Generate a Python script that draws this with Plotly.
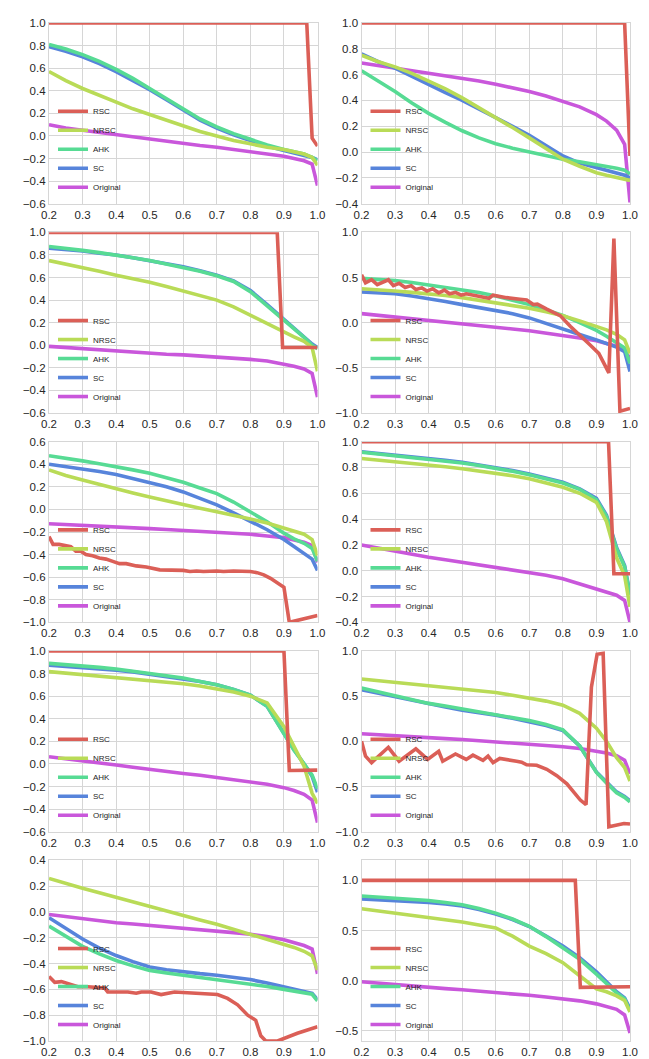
import plotly.graph_objects as go
from plotly.subplots import make_subplots

# ---------------- data ----------------
X_GRID = [0.2, 0.25, 0.3, 0.35, 0.4, 0.45, 0.5, 0.55, 0.6, 0.65, 0.7, 0.75,
          0.8, 0.85, 0.9, 0.93, 0.96, 0.984, 1.0]
SERIES = ["RSC", "NRSC", "AHK", "SC", "Original"]
COLORS = {"RSC": "#db5f57", "NRSC": "#b9db57", "AHK": "#57db94",
          "SC": "#5784db", "Original": "#c957db"}
X_TICKS = [0.2, 0.3, 0.4, 0.5, 0.6, 0.7, 0.8, 0.9, 1.0]

# Panel 1
P1_RSC_X = [0.2, 0.968, 0.984, 1.0]
P1_RSC = [1.0, 1.0, -0.02, -0.09]
P1_NRSC = [0.57, 0.49, 0.42, 0.36, 0.30, 0.24, 0.19, 0.14, 0.09, 0.04, 0.00, -0.04, -0.07, -0.10, -0.12, -0.14, -0.16, -0.19, -0.26]
P1_AHK = [0.81, 0.77, 0.72, 0.66, 0.59, 0.51, 0.42, 0.33, 0.24, 0.15, 0.08, 0.02, -0.03, -0.08, -0.12, -0.14, -0.16, -0.19, -0.22]
P1_SC = [0.79, 0.75, 0.70, 0.64, 0.57, 0.49, 0.41, 0.32, 0.23, 0.14, 0.07, 0.01, -0.04, -0.09, -0.13, -0.15, -0.17, -0.19, -0.21]
P1_ORIG = [0.10, 0.07, 0.05, 0.03, 0.01, -0.01, -0.03, -0.05, -0.07, -0.085, -0.10, -0.12, -0.14, -0.16, -0.18, -0.20, -0.22, -0.25, -0.44]

# Panel 2
P2_RSC_X = [0.2, 0.984, 1.0]
P2_RSC = [1.0, 1.0, -0.03]
P2_NRSC = [0.75, 0.70, 0.66, 0.61, 0.55, 0.49, 0.42, 0.345, 0.265, 0.19, 0.11, 0.03, -0.055, -0.11, -0.16, -0.18, -0.20, -0.21, -0.22]
P2_AHK = [0.63, 0.55, 0.47, 0.38, 0.30, 0.23, 0.165, 0.11, 0.065, 0.03, 0.00, -0.03, -0.055, -0.075, -0.095, -0.11, -0.125, -0.14, -0.17]
P2_SC = [0.76, 0.70, 0.65, 0.585, 0.52, 0.46, 0.40, 0.335, 0.27, 0.20, 0.13, 0.05, -0.03, -0.085, -0.12, -0.145, -0.165, -0.18, -0.20]
P2_ORIG = [0.69, 0.67, 0.655, 0.635, 0.615, 0.595, 0.57, 0.55, 0.525, 0.50, 0.47, 0.435, 0.395, 0.35, 0.29, 0.24, 0.17, 0.06, -0.39]

# Panel 3
P3_RSC_X = [0.2, 0.88, 0.896, 1.0]
P3_RSC = [1.0, 1.0, -0.02, -0.02]
P3_NRSC = [0.75, 0.72, 0.69, 0.655, 0.62, 0.59, 0.557, 0.52, 0.48, 0.44, 0.40, 0.34, 0.265, 0.19, 0.12, 0.075, 0.035, -0.02, -0.23]
P3_AHK = [0.875, 0.86, 0.84, 0.82, 0.80, 0.775, 0.75, 0.72, 0.69, 0.655, 0.615, 0.565, 0.475, 0.35, 0.22, 0.15, 0.07, 0.00, -0.03]
P3_SC = [0.86, 0.85, 0.835, 0.815, 0.80, 0.775, 0.75, 0.725, 0.695, 0.66, 0.62, 0.57, 0.485, 0.36, 0.23, 0.16, 0.08, 0.01, -0.02]
P3_ORIG = [-0.01, -0.02, -0.035, -0.04, -0.05, -0.06, -0.07, -0.08, -0.085, -0.095, -0.10, -0.11, -0.125, -0.14, -0.165, -0.185, -0.21, -0.25, -0.46]

# Panel 4
P4_RSC_X = [0.2, 0.212, 0.23, 0.247, 0.28, 0.295, 0.312, 0.33, 0.348, 0.362, 0.38, 0.395, 0.412, 0.43, 0.447,
            0.462, 0.48, 0.497, 0.512, 0.532, 0.562, 0.58, 0.592, 0.632, 0.672, 0.692, 0.712, 0.724, 0.752,
            0.792, 0.822, 0.852, 0.882, 0.907, 0.937, 0.952, 0.97, 1.0]
P4_RSC = [0.53, 0.44, 0.475, 0.42, 0.475, 0.41, 0.435, 0.39, 0.41, 0.367, 0.385, 0.35, 0.375, 0.33, 0.36,
          0.32, 0.335, 0.305, 0.32, 0.305, 0.284, 0.27, 0.305, 0.277, 0.26, 0.25, 0.20, 0.205, 0.15,
          0.078, -0.04, -0.14, -0.25, -0.34, -0.555, 0.93, -0.98, -0.95]
P4_NRSC = [0.375, 0.365, 0.35, 0.335, 0.32, 0.30, 0.277, 0.25, 0.222, 0.19, 0.16, 0.12, 0.078, 0.02, -0.04, -0.08, -0.13, -0.19, -0.34]
P4_AHK = [0.49, 0.48, 0.465, 0.445, 0.42, 0.395, 0.37, 0.335, 0.295, 0.25, 0.20, 0.14, 0.08, 0.0, -0.085, -0.15, -0.22, -0.28, -0.45]
P4_SC = [0.34, 0.33, 0.32, 0.295, 0.27, 0.235, 0.20, 0.17, 0.14, 0.10, 0.053, -0.005, -0.067, -0.13, -0.19, -0.23, -0.27, -0.32, -0.54]
P4_ORIG = [0.10, 0.082, 0.065, 0.048, 0.03, 0.01, -0.01, -0.03, -0.05, -0.07, -0.09, -0.115, -0.14, -0.17, -0.20, -0.23, -0.26, -0.30, -0.40]

# Panel 5
P5_RSC_X = [0.2, 0.212, 0.23, 0.25, 0.265, 0.28, 0.295, 0.31, 0.33, 0.35, 0.37, 0.39, 0.41, 0.43, 0.46, 0.49,
            0.51, 0.53, 0.6, 0.62, 0.64, 0.66, 0.7, 0.72, 0.75, 0.8, 0.82, 0.84, 0.86, 0.88, 0.9, 0.916, 0.93, 1.0]
P5_RSC = [-0.24, -0.31, -0.31, -0.32, -0.33, -0.37, -0.37, -0.40, -0.41, -0.43, -0.44, -0.46, -0.48, -0.48, -0.50, -0.51,
          -0.52, -0.535, -0.54, -0.55, -0.545, -0.55, -0.545, -0.55, -0.545, -0.55, -0.56, -0.58, -0.61, -0.65, -0.69, -1.0, -0.99, -0.94]
P5_NRSC = [0.35, 0.30, 0.26, 0.22, 0.184, 0.145, 0.11, 0.075, 0.04, 0.01, -0.02, -0.05, -0.084, -0.12, -0.165, -0.19, -0.22, -0.267, -0.41]
P5_AHK = [0.475, 0.455, 0.43, 0.405, 0.38, 0.35, 0.32, 0.28, 0.24, 0.19, 0.14, 0.065, -0.02, -0.11, -0.21, -0.26, -0.30, -0.345, -0.46]
P5_SC = [0.40, 0.38, 0.36, 0.335, 0.31, 0.275, 0.24, 0.20, 0.155, 0.10, 0.04, -0.03, -0.107, -0.18, -0.267, -0.33, -0.39, -0.44, -0.54]
P5_ORIG = [-0.127, -0.133, -0.14, -0.148, -0.155, -0.162, -0.17, -0.178, -0.185, -0.193, -0.20, -0.21, -0.22, -0.235, -0.25, -0.27, -0.29, -0.32, -0.47]

# Panel 6
P6_RSC_X = [0.2, 0.936, 0.952, 1.0]
P6_RSC = [1.0, 1.0, -0.024, -0.024]
P6_NRSC = [0.87, 0.858, 0.846, 0.833, 0.82, 0.805, 0.79, 0.774, 0.757, 0.736, 0.713, 0.683, 0.647, 0.60, 0.53, 0.38, 0.10, -0.04, -0.28]
P6_AHK = [0.918, 0.905, 0.89, 0.877, 0.864, 0.85, 0.834, 0.815, 0.795, 0.77, 0.744, 0.715, 0.68, 0.63, 0.55, 0.42, 0.17, 0.03, -0.19]
P6_SC = [0.922, 0.91, 0.895, 0.882, 0.869, 0.855, 0.84, 0.82, 0.80, 0.776, 0.75, 0.72, 0.685, 0.635, 0.56, 0.43, 0.18, 0.04, -0.18]
P6_ORIG = [0.20, 0.175, 0.15, 0.127, 0.104, 0.085, 0.066, 0.047, 0.027, 0.008, -0.01, -0.035, -0.062, -0.10, -0.14, -0.165, -0.19, -0.23, -0.40]

# Panel 7
P7_RSC_X = [0.2, 0.9, 0.916, 1.0]
P7_RSC = [1.0, 1.0, -0.058, -0.055]
P7_NRSC = [0.817, 0.803, 0.79, 0.775, 0.76, 0.75, 0.74, 0.725, 0.71, 0.69, 0.667, 0.637, 0.60, 0.54, 0.33, 0.15, -0.02, -0.26, -0.35]
P7_AHK = [0.89, 0.88, 0.87, 0.855, 0.84, 0.82, 0.80, 0.78, 0.76, 0.73, 0.70, 0.66, 0.61, 0.51, 0.26, 0.12, 0.0, -0.10, -0.22]
P7_SC = [0.875, 0.865, 0.855, 0.845, 0.83, 0.815, 0.795, 0.777, 0.757, 0.73, 0.70, 0.66, 0.61, 0.51, 0.27, 0.125, 0.0, -0.11, -0.25]
P7_ORIG = [0.064, 0.047, 0.03, 0.01, -0.01, -0.03, -0.05, -0.068, -0.085, -0.10, -0.12, -0.137, -0.155, -0.18, -0.21, -0.235, -0.27, -0.32, -0.52]

# Panel 8
P8_RSC_X = [0.2, 0.212, 0.23, 0.28, 0.312, 0.362, 0.397, 0.43, 0.442, 0.48, 0.512, 0.532, 0.562, 0.577, 0.592, 0.612,
            0.662, 0.677, 0.692, 0.722, 0.752, 0.782, 0.812, 0.832, 0.852, 0.869, 0.885, 0.902, 0.92, 0.937, 0.982, 1.0]
P8_RSC = [0.0, -0.164, -0.236, -0.066, -0.22, -0.084, -0.2, -0.11, -0.22, -0.14, -0.2, -0.153, -0.21, -0.163, -0.236, -0.19,
          -0.22, -0.23, -0.26, -0.265, -0.31, -0.38, -0.47, -0.56, -0.65, -0.70, 0.6, 0.964, 0.975, -0.945, -0.91, -0.916]
P8_NRSC = [0.69, 0.672, 0.655, 0.637, 0.62, 0.60, 0.58, 0.56, 0.54, 0.51, 0.48, 0.445, 0.40, 0.31, 0.145, 0.0, -0.18, -0.29, -0.44]
P8_AHK = [0.59, 0.545, 0.50, 0.46, 0.42, 0.39, 0.357, 0.33, 0.30, 0.265, 0.23, 0.185, 0.127, -0.05, -0.345, -0.46, -0.57, -0.62, -0.67]
P8_SC = [0.57, 0.53, 0.49, 0.45, 0.41, 0.38, 0.345, 0.32, 0.29, 0.255, 0.22, 0.175, 0.12, -0.05, -0.34, -0.45, -0.56, -0.61, -0.66]
P8_ORIG = [0.084, 0.075, 0.065, 0.052, 0.04, 0.03, 0.02, 0.008, -0.005, -0.017, -0.03, -0.045, -0.06, -0.08, -0.105, -0.13, -0.16, -0.21, -0.36]

# Panel 9
P9_RSC_X = [0.2, 0.217, 0.237, 0.266, 0.286, 0.316, 0.366, 0.375, 0.405, 0.435, 0.46, 0.475, 0.504, 0.534, 0.574,
            0.623, 0.673, 0.702, 0.732, 0.762, 0.792, 0.816, 0.831, 0.846, 0.881, 0.94, 1.0]
P9_RSC = [-0.50, -0.545, -0.54, -0.56, -0.58, -0.58, -0.59, -0.62, -0.62, -0.62, -0.63, -0.62, -0.62, -0.64, -0.62,
          -0.63, -0.64, -0.64, -0.67, -0.72, -0.80, -0.84, -0.96, -1.0, -1.0, -0.94, -0.89]
P9_NRSC = [0.26, 0.22, 0.184, 0.148, 0.112, 0.078, 0.044, 0.008, -0.028, -0.062, -0.096, -0.135, -0.173, -0.21, -0.25, -0.275, -0.305, -0.34, -0.45]
P9_AHK = [-0.11, -0.19, -0.267, -0.325, -0.376, -0.418, -0.453, -0.473, -0.49, -0.505, -0.52, -0.537, -0.555, -0.578, -0.60, -0.613, -0.625, -0.638, -0.69]
P9_SC = [-0.045, -0.13, -0.21, -0.28, -0.338, -0.385, -0.427, -0.448, -0.465, -0.478, -0.49, -0.507, -0.524, -0.55, -0.58, -0.595, -0.612, -0.63, -0.68]
P9_ORIG = [-0.02, -0.037, -0.053, -0.068, -0.084, -0.094, -0.104, -0.115, -0.127, -0.137, -0.147, -0.16, -0.173, -0.19, -0.216, -0.235, -0.26, -0.287, -0.48]

# Panel 10
P10_RSC_X = [0.2, 0.837, 0.852, 1.0]
P10_RSC = [1.0, 1.0, -0.066, -0.06]
P10_NRSC = [0.717, 0.695, 0.674, 0.655, 0.635, 0.61, 0.585, 0.555, 0.526, 0.444, 0.345, 0.27, 0.18, 0.05, -0.08, -0.11, -0.15, -0.197, -0.31]
P10_AHK = [0.845, 0.834, 0.822, 0.811, 0.80, 0.78, 0.757, 0.72, 0.674, 0.615, 0.543, 0.44, 0.33, 0.214, 0.066, -0.03, -0.12, -0.18, -0.30]
P10_SC = [0.815, 0.808, 0.80, 0.79, 0.78, 0.765, 0.745, 0.71, 0.665, 0.61, 0.54, 0.445, 0.345, 0.23, 0.09, -0.01, -0.11, -0.17, -0.28]
P10_ORIG = [-0.01, -0.025, -0.04, -0.052, -0.065, -0.078, -0.09, -0.102, -0.115, -0.13, -0.145, -0.162, -0.18, -0.2, -0.23, -0.255, -0.285, -0.34, -0.52]

Y_RANGES = [[-0.6, 1.0], [-0.4, 1.0], [-0.6, 1.0], [-1.0, 1.0], [-1.0, 0.6],
            [-0.4, 1.0], [-0.6, 1.0], [-1.0, 1.0], [-1.0, 0.4], [-0.6, 1.2]]
Y_STEPS = [0.2, 0.2, 0.2, 0.5, 0.2, 0.2, 0.2, 0.5, 0.2, 0.5]

PANELS = [
    dict(rsc_x=P1_RSC_X, RSC=P1_RSC, NRSC=P1_NRSC, AHK=P1_AHK, SC=P1_SC, Original=P1_ORIG),
    dict(rsc_x=P2_RSC_X, RSC=P2_RSC, NRSC=P2_NRSC, AHK=P2_AHK, SC=P2_SC, Original=P2_ORIG),
    dict(rsc_x=P3_RSC_X, RSC=P3_RSC, NRSC=P3_NRSC, AHK=P3_AHK, SC=P3_SC, Original=P3_ORIG),
    dict(rsc_x=P4_RSC_X, RSC=P4_RSC, NRSC=P4_NRSC, AHK=P4_AHK, SC=P4_SC, Original=P4_ORIG),
    dict(rsc_x=P5_RSC_X, RSC=P5_RSC, NRSC=P5_NRSC, AHK=P5_AHK, SC=P5_SC, Original=P5_ORIG),
    dict(rsc_x=P6_RSC_X, RSC=P6_RSC, NRSC=P6_NRSC, AHK=P6_AHK, SC=P6_SC, Original=P6_ORIG),
    dict(rsc_x=P7_RSC_X, RSC=P7_RSC, NRSC=P7_NRSC, AHK=P7_AHK, SC=P7_SC, Original=P7_ORIG),
    dict(rsc_x=P8_RSC_X, RSC=P8_RSC, NRSC=P8_NRSC, AHK=P8_AHK, SC=P8_SC, Original=P8_ORIG),
    dict(rsc_x=P9_RSC_X, RSC=P9_RSC, NRSC=P9_NRSC, AHK=P9_AHK, SC=P9_SC, Original=P9_ORIG),
    dict(rsc_x=P10_RSC_X, RSC=P10_RSC, NRSC=P10_NRSC, AHK=P10_AHK, SC=P10_SC, Original=P10_ORIG),
]

# ---------------- figure ----------------
W, H = 649, 1059
ML, MR, MT, MB = 41, 27, 9, 19
PW, PH = W - ML - MR, H - MT - MB

fig = make_subplots(rows=5, cols=2, horizontal_spacing=44 / PW, vertical_spacing=29 / PH)

FONT = "Liberation Sans, Arial, sans-serif"
GRID = "#d6d6d6"
TEXT = "#262626"
LINE_W = 3.6

draw_order = ["Original", "SC", "AHK", "NRSC", "RSC"]
rank = {s: i + 1 for i, s in enumerate(SERIES)}

for i, p in enumerate(PANELS):
    row, col = i // 2 + 1, i % 2 + 1
    leg = "legend" if i == 0 else f"legend{i + 1}"
    for s in draw_order:
        xs = p["rsc_x"] if s == "RSC" else X_GRID
        fig.add_trace(
            go.Scatter(x=xs, y=p[s], mode="lines", name=s,
                       line=dict(color=COLORS[s], width=LINE_W),
                       legend=leg, legendrank=rank[s], showlegend=True,
                       hoverinfo="skip"),
            row=row, col=col)
    fig.update_yaxes(range=Y_RANGES[i], dtick=Y_STEPS[i], tick0=0, tickformat=".1f",
                     row=row, col=col)

fig.update_xaxes(range=[0.2, 1.0], tickvals=X_TICKS, tickformat=".1f",
                 showgrid=True, gridcolor=GRID, gridwidth=1, zeroline=False,
                 showline=True, mirror=True, linecolor=GRID, linewidth=1.2,
                 ticks="", tickfont=dict(family=FONT, size=11.5, color=TEXT))
fig.update_yaxes(showgrid=True, gridcolor=GRID, gridwidth=1, zeroline=False,
                 showline=True, mirror=True, linecolor=GRID, linewidth=1.2,
                 ticks="", tickfont=dict(family=FONT, size=11.5, color=TEXT))

legends = {}
for i in range(10):
    ax_suffix = "" if i == 0 else str(i + 1)
    xd = fig.layout["xaxis" + ax_suffix].domain
    yd = fig.layout["yaxis" + ax_suffix].domain
    key = "legend" if i == 0 else f"legend{i + 1}"
    legends[key] = dict(x=xd[0] + 4 / PW, y=yd[0] + 2 / PH, xanchor="left", yanchor="bottom",
                        bgcolor="rgba(0,0,0,0)", borderwidth=0, tracegroupgap=0,
                        font=dict(family=FONT, size=8, color=TEXT), traceorder="normal")

fig.update_layout(
    width=W, height=H,
    margin=dict(l=ML, r=MR, t=MT, b=MB),
    paper_bgcolor="white", plot_bgcolor="white",
    font=dict(family=FONT, color=TEXT),
    **legends,
)

fig.write_html("out.html")
